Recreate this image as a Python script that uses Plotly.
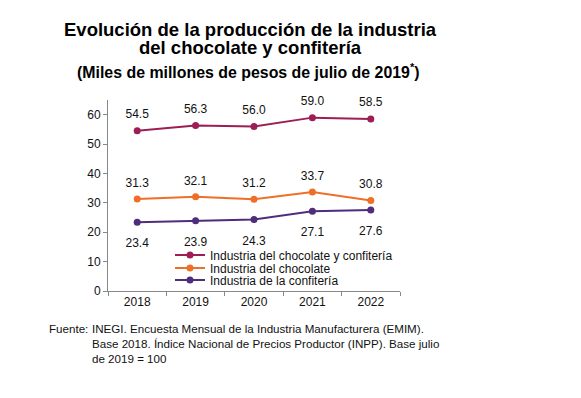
import plotly.graph_objects as go

years = ["2018", "2019", "2020", "2021", "2022"]
total = [54.5, 56.3, 56.0, 59.0, 58.5]
chocolate = [31.3, 32.1, 31.2, 33.7, 30.8]
confiteria = [23.4, 23.9, 24.3, 27.1, 27.6]
names = ["Industria del chocolate y confitería", "Industria del chocolate", "Industria de la confitería"]
y_ticks = [0, 10, 20, 30, 40, 50, 60]

FONT = "Liberation Sans, Arial, sans-serif"
c_total = "#9C1E55"
c_choc = "#EF6F28"
c_conf = "#4F2C7C"

# page has an 8px body margin; plot area at page x 108..400, y 100..291
L, T, PW, PH = 100, 92, 292, 191
def px(x):
    return (x - 108) / PW
def py(y):
    return (291 - y) / PH

fig = go.Figure()
series = [
    (total, names[0], c_total, "top center", 14, "legend"),
    (chocolate, names[1], c_choc, "top center", 13, "legend2"),
    (confiteria, names[2], c_conf, "bottom center", 24, "legend3"),
]
for vals, name, col, pos, lsize, leg in series:
    fig.add_trace(go.Scatter(
        x=years, y=vals, name=name, mode="lines+markers",
        line=dict(color=col, width=2),
        marker=dict(color=col, size=7),
        legend=leg, cliponaxis=False,
    ))
for vals, name, col, pos, lsize, leg in series:
    fig.add_trace(go.Scatter(
        x=years, y=vals, mode="markers+text", showlegend=False, hoverinfo="skip",
        marker=dict(color=col, size=lsize, opacity=0),
        text=[f"{v:.1f}" for v in vals], textposition=pos, cliponaxis=False,
        textfont=dict(family=FONT, size=12, color="#111111"),
    ))

leg_common = dict(xanchor="left", yanchor="middle", bgcolor="rgba(0,0,0,0)",
                  font=dict(family=FONT, size=12, color="#111111"), itemwidth=30)
fig.update_layout(
    width=581, height=398,
    margin=dict(l=L, r=581 - L - PW, t=T, b=398 - T - PH),
    paper_bgcolor="white", plot_bgcolor="white",
    font=dict(family=FONT, size=12, color="#111111"),
    showlegend=True,
    legend=dict(x=px(170), y=py(255), **leg_common),
    legend2=dict(x=px(170), y=py(268), **leg_common),
    legend3=dict(x=px(170), y=py(280), **leg_common),
    xaxis=dict(type="category", range=[-0.5, 4.5], showline=True, linecolor="#888888",
               linewidth=1, ticks="outside", tickson="boundaries", ticklen=4,
               tickcolor="#888888", showgrid=False, tickfont=dict(size=12)),
    yaxis=dict(range=[0, 65], tickvals=y_ticks, showline=True, linecolor="#888888",
               linewidth=1, ticks="outside", ticklen=4, tickcolor="#888888",
               showgrid=False, zeroline=False, tickfont=dict(size=12)),
)

fig.add_annotation(x=px(250), y=py(30), xref="paper", yref="paper", showarrow=False,
                   xanchor="center", yanchor="middle",
                   text="<b>Evolución de la producción de la industria</b>",
                   font=dict(family=FONT, size=18.5, color="black"))
fig.add_annotation(x=px(250), y=py(48), xref="paper", yref="paper", showarrow=False,
                   xanchor="center", yanchor="middle",
                   text="<b>del chocolate y confitería</b>",
                   font=dict(family=FONT, size=18.5, color="black"))
fig.add_annotation(x=px(248), y=py(71), xref="paper", yref="paper", showarrow=False,
                   xanchor="center", yanchor="middle",
                   text="<b>(Miles de millones de pesos de julio de 2019<sup>*</sup>)</b>",
                   font=dict(family=FONT, size=15.9, color="black"))
fig.add_annotation(x=px(47), y=py(320), xref="paper", yref="paper", showarrow=False,
                   xanchor="left", yanchor="top", align="left",
                   text="Fuente:", font=dict(family=FONT, size=11.6, color="#111111"))
fig.add_annotation(x=px(90), y=py(320), xref="paper", yref="paper", showarrow=False,
                   xanchor="left", yanchor="top", align="left",
                   text="INEGI. Encuesta Mensual de la Industria Manufacturera (EMIM).<br>"
                        "Base 2018. Índice Nacional de Precios Productor (INPP). Base julio<br>"
                        "de 2019 = 100",
                   font=dict(family=FONT, size=11.6, color="#111111"))

fig.write_html("out.html")
